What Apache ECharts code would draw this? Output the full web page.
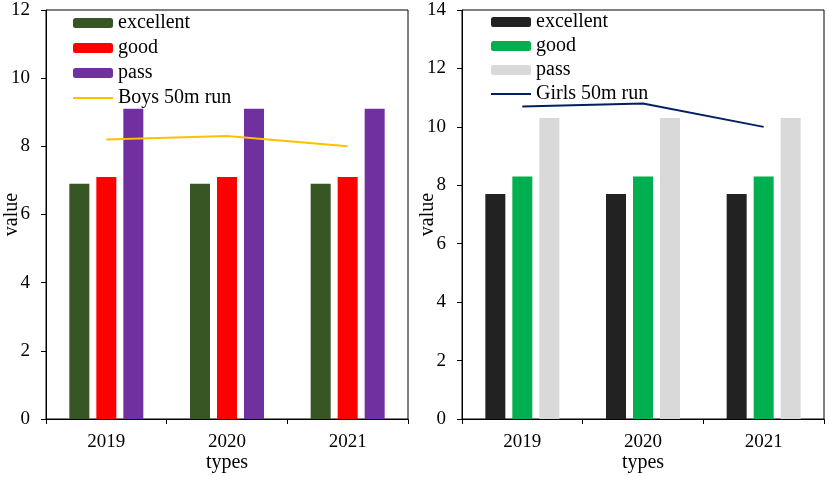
<!DOCTYPE html>
<html><head><meta charset="utf-8">
<script src="https://cdn.jsdelivr.net/npm/echarts@6/dist/echarts.min.js"></script>
<style>html,body{margin:0;padding:0;background:#fff}#c{width:829px;height:477px}</style>
</head><body><div id="c"></div>
<script>
const categories = ['2019', '2020', '2021'];
const boysExcellent = [6.9, 6.9, 6.9];
const boysGood = [7.1, 7.1, 7.1];
const boysPass = [9.1, 9.1, 9.1];
const boys50m = [8.2, 8.3, 8.0];
const girlsExcellent = [7.7, 7.7, 7.7];
const girlsGood = [8.3, 8.3, 8.3];
const girlsPass = [10.3, 10.3, 10.3];
const girls50m = [10.7, 10.8, 10.0];

const font = 'Liberation Serif';
const lineIcon = 'path://M0,0L20,0L20,1L0,1Z';
const chart = echarts.init(document.getElementById('c'));
function xAxis(gi) {
  return {
    type: 'category', gridIndex: gi, data: categories, boundaryGap: true,
    name: 'types', nameLocation: 'middle', nameGap: 34, nameMoveOverlap: false,
    nameTextStyle: {fontFamily: font, fontSize: 20, color: '#000'},
    axisLine: {show: true, lineStyle: {color: '#000', width: 1}},
    axisTick: {show: true, inside: false, length: 5, lineStyle: {color: '#000'}},
    axisLabel: {fontFamily: font, fontSize: 19, color: '#000', margin: 14},
    splitLine: {show: false}
  };
}
function yAxis(gi, max) {
  return {
    type: 'value', gridIndex: gi, min: 0, max: max, interval: 2,
    name: 'value', nameLocation: 'middle', nameGap: 24, nameMoveOverlap: false,
    nameTextStyle: {fontFamily: font, fontSize: 20, color: '#000'},
    axisLine: {show: true, lineStyle: {color: '#000', width: 1}},
    axisTick: {show: true, inside: false, length: 5, lineStyle: {color: '#000'}},
    axisLabel: {fontFamily: font, fontSize: 19, color: '#000', margin: 16},
    splitLine: {show: false}
  };
}
function bar(name, data, color, gi) {
  return {name: name, type: 'bar', xAxisIndex: gi, yAxisIndex: gi, data: data,
    barWidth: 20, barGap: '35%', itemStyle: {color: color}, animation: false};
}
function line(name, data, color, gi) {
  return {name: name, type: 'line', xAxisIndex: gi, yAxisIndex: gi, data: data,
    symbol: 'none', lineStyle: {color: color, width: 2}, itemStyle: {color: color}, animation: false};
}
const legendCommon = {
  orient: 'vertical', top: 13, padding: 0, itemWidth: 40, itemHeight: 10, itemGap: 5,
  textStyle: {fontFamily: font, fontSize: 20, color: '#000'}
};
chart.setOption({
  animation: false,
  grid: [
    {left: 46, top: 10, right: 421, bottom: 58, show: true, borderColor: '#000', borderWidth: 1, containLabel: false, outerBoundsMode: 'none'},
    {left: 462, top: 10, right: 5, bottom: 58, show: true, borderColor: '#000', borderWidth: 1, containLabel: false, outerBoundsMode: 'none'}
  ],
  legend: [
    Object.assign({}, legendCommon, {left: 73, data: ['excellent', 'good', 'pass', {name: 'Boys 50m run', icon: lineIcon}]}),
    Object.assign({}, legendCommon, {left: 491, top: 12, itemGap: 4, data: ['excellent ', 'good ', 'pass ', {name: 'Girls 50m run', icon: lineIcon}]})
  ],
  xAxis: [xAxis(0), xAxis(1)],
  yAxis: [yAxis(0, 12), yAxis(1, 14)],
  series: [
    bar('excellent', boysExcellent, '#375623', 0),
    bar('good', boysGood, '#ff0000', 0),
    bar('pass', boysPass, '#7030a0', 0),
    line('Boys 50m run', boys50m, '#ffc000', 0),
    bar('excellent ', girlsExcellent, '#222222', 1),
    bar('good ', girlsGood, '#00b050', 1),
    bar('pass ', girlsPass, '#d9d9d9', 1),
    line('Girls 50m run', girls50m, '#002060', 1)
  ]
});
</script></body></html>
